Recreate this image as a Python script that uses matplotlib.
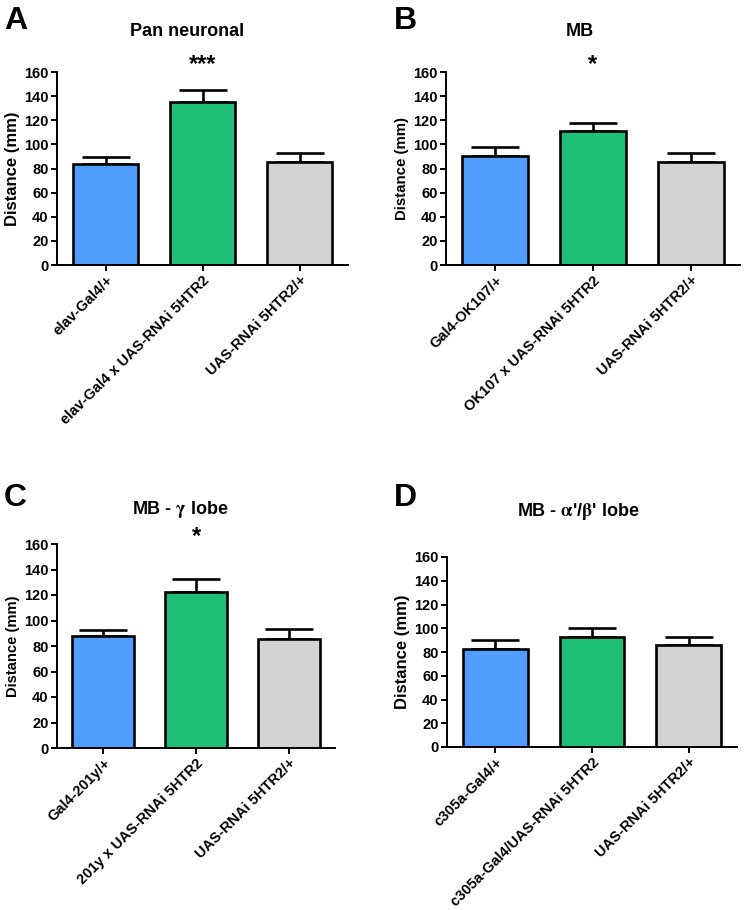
import matplotlib.pyplot as plt
import numpy as np

plt.rcParams['font.family'] = ['Liberation Sans', 'DejaVu Sans']
plt.rcParams['font.weight'] = 'bold'
plt.rcParams['mathtext.fontset'] = 'stix'

colors = ['#4f9dfc', '#1fbf78', '#d3d3d3']

# panel data: labels, means, upper error (SEM)
labels_a = ['elav-Gal4/+', 'elav-Gal4 x UAS-RNAi 5HTR2', 'UAS-RNAi 5HTR2/+']
means_a = [84, 135, 85.5]
err_a = [5.5, 10, 7.5]

labels_b = ['Gal4-OK107/+', 'OK107 x UAS-RNAi 5HTR2', 'UAS-RNAi 5HTR2/+']
means_b = [90.5, 111, 85.5]
err_b = [7, 6.5, 7]

labels_c = ['Gal4-201y/+', '201y x UAS-RNAi 5HTR2', 'UAS-RNAi 5HTR2/+']
means_c = [87.5, 122, 85.5]
err_c = [5, 10.5, 7.5]

labels_d = ['c305a-Gal4/+', 'c305a-Gal4/UAS-RNAi 5HTR2', 'UAS-RNAi 5HTR2/+']
means_d = [82.5, 93, 85.5]
err_d = [8, 7.5, 7]

# letter, title, labels, means, errs, star, axes box (px), title pos (px), letter pos (px), ylabel size
panels = [
    ('A', 'Pan neuronal', labels_a, means_a, err_a, '***', [57, 72, 348, 265], (187, 31), (4, 6), 12),
    ('B', 'MB', labels_b, means_b, err_b, '*', [446, 72, 740, 265], (580, 31), (394, 6), 10.8),
    ('C', r'MB - $\mathrm{\gamma}$ lobe', labels_c, means_c, err_c, '*', [57, 544, 335, 748], (180, 509), (4, 483), 10.6),
    ('D', r"MB - $\mathrm{\alpha}$'/$\mathrm{\beta}$' lobe", labels_d, means_d, err_d, '', [447, 557, 737, 747], (578, 512), (394, 483), 12),
]

W, H = 747, 910
fig = plt.figure(figsize=(W / 100, H / 100), dpi=100)

for letter, title, labels, means, errs, star, (x0, y0, x1, y1), (tx, ty), (lx, ly), ylsize in panels:
    ax = fig.add_axes([x0 / W, 1 - y1 / H, (x1 - x0) / W, (y1 - y0) / H])
    x = np.arange(len(labels))
    ax.bar(x, means, width=0.67, color=colors, edgecolor='black', linewidth=1.9, zorder=2)
    ax.errorbar(x, means, yerr=[np.zeros(len(errs)), errs], fmt='none', ecolor='black',
                elinewidth=1.9, capsize=17, capthick=1.9, zorder=1)
    ax.set_xlim(-0.5, 2.5)
    ax.set_ylim(0, 160)
    ax.set_yticks(np.arange(0, 161, 20))
    ax.set_xticks(x)
    ax.set_xticklabels(labels, rotation=45, ha='right', rotation_mode='anchor')
    ax.tick_params(axis='both', labelsize=10.5, width=1.4, length=4, pad=2)
    for t in ax.get_xticklabels() + ax.get_yticklabels():
        t.set_fontweight('bold')
    ax.spines['top'].set_visible(False)
    ax.spines['right'].set_visible(False)
    ax.spines['left'].set_linewidth(1.4)
    ax.spines['bottom'].set_linewidth(1.4)
    ax.set_ylabel('Distance (mm)', fontsize=ylsize, fontweight='bold', labelpad=3)
    fig.text(tx / W, 1 - ty / H, title, fontsize=13, fontweight='bold', ha='center', va='center')
    if star:
        ax.text(1, 166, star, ha='center', va='center', fontsize=17, fontweight='bold')
    fig.text(lx / W, 1 - ly / H, letter, fontsize=23, fontweight='bold', va='top', ha='left')

fig.savefig('out.png', dpi=100)
